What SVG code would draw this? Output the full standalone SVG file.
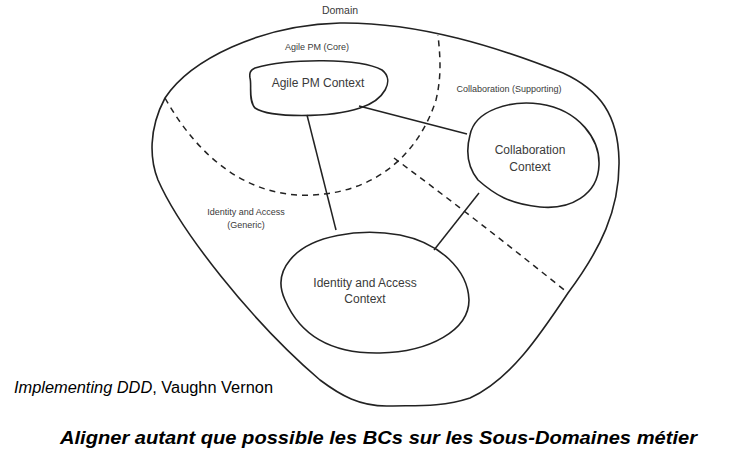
<svg xmlns="http://www.w3.org/2000/svg" width="730" height="454" viewBox="0 0 730 454">
<style>
.sh{fill:none;stroke:#222;stroke-width:1.6;stroke-linejoin:round;stroke-linecap:round}
.dash{fill:none;stroke:#222;stroke-width:1.5;stroke-dasharray:6 5}
.ln{stroke:#222;stroke-width:1.5;fill:none}
.hw{font-family:"Liberation Sans","DejaVu Sans",sans-serif;fill:#3a3a3a;text-anchor:middle}
.sm{font-size:9px}
.nd{font-size:12px}
.cap{font-family:"Liberation Sans",Arial,sans-serif;fill:#000}
</style>
<rect width="730" height="454" fill="#fff"/>
<g id="domain">
<path class="sh" d="M340,23 C420,22 500,48 563,73 C600,90 618,115 619,160 C620,210 600,250 568,293 C540,335 510,380 470,398 C440,408 410,405 390,406 C360,407 340,395 320,380 C250,320 180,230 158,180 C150,160 148,130 165,98 C190,60 260,25 340,23 Z"/>
<text class="hw" x="340" y="14" font-size="10.5">Domain</text>
</g>
<g id="subdomains">
<path class="dash" d="M165,98 C200,160 250,198 312,195 C380,192 420,150 436,100 C442,75 440,55 438,35"/>
<path class="dash" d="M394,158 Q480,222 568,293"/>
<text class="hw sm" x="317" y="50">Agile PM (Core)</text>
<text class="hw sm" x="509" y="92">Collaboration (Supporting)</text>
<text class="hw sm" x="246" y="215">Identity and Access</text>
<text class="hw sm" x="246" y="228">(Generic)</text>
</g>
<g id="connectors">
<line class="ln" x1="307" y1="115" x2="336" y2="230"/>
<line class="ln" x1="359" y1="106" x2="467" y2="134"/>
<line class="ln" x1="479" y1="193" x2="434" y2="250"/>
</g>
<g id="agile-pm-context">
<path class="sh" d="M255,68 C290,58 360,58 382,70 C395,80 385,100 360,108 C330,118 270,118 255,108 C248,100 252,85 250,78 C249,72 251,70 255,68 Z" fill="#fff"/>
<text class="hw nd" x="318" y="87">Agile PM Context</text>
</g>
<g id="collaboration-context">
<path class="sh" d="M470,135 C475,110 510,100 540,104 C580,110 600,140 599,165 C598,195 570,210 540,207 C510,204 495,195 478,180 C466,165 466,150 470,135 Z" fill="#fff"/>
<text class="hw nd" x="530" y="154">Collaboration</text>
<text class="hw nd" x="530" y="171">Context</text>
</g>
<g id="identity-access-context">
<path class="sh" d="M290,260 C310,235 360,228 400,235 C440,243 468,270 469,300 C469,330 430,352 380,353 C330,354 300,335 285,300 C278,285 280,272 290,260 Z" fill="#fff"/>
<text class="hw nd" x="365" y="287">Identity and Access</text>
<text class="hw nd" x="365" y="303">Context</text>
</g>
<g id="captions">
<text class="cap" x="14" y="393" font-size="16" textLength="259" lengthAdjust="spacingAndGlyphs"><tspan font-style="italic">Implementing DDD</tspan>, Vaughn Vernon</text>
<text class="cap" x="60" y="444" font-size="19" font-weight="bold" font-style="italic" textLength="637" lengthAdjust="spacingAndGlyphs">Aligner autant que possible les BCs sur les Sous-Domaines métier</text>
</g>
</svg>
